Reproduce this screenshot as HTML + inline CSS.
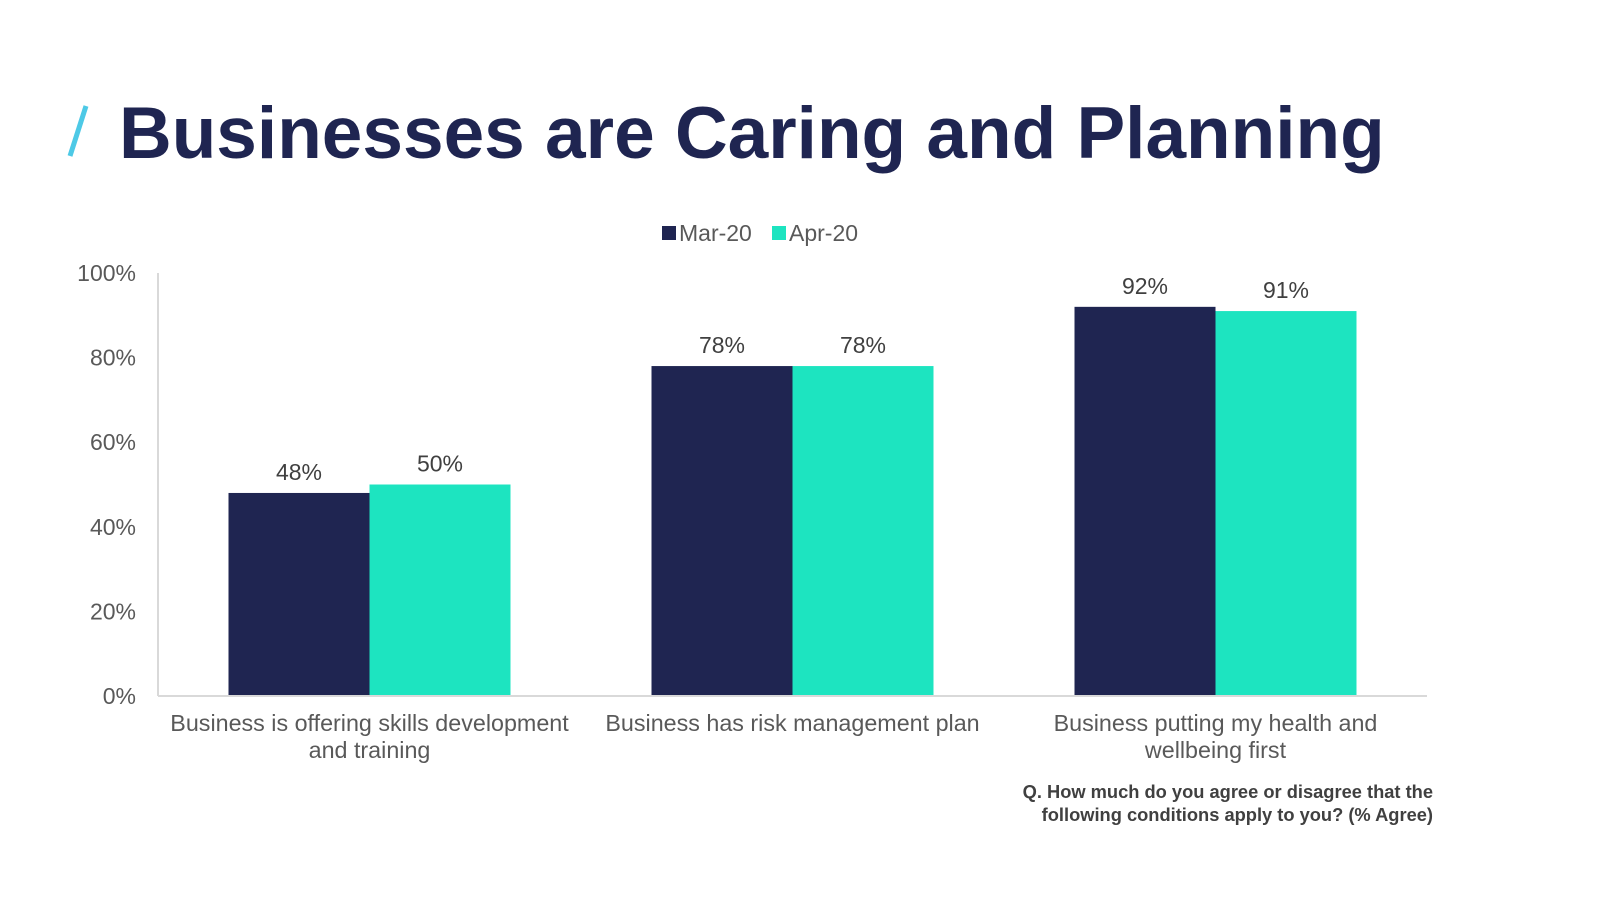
<!DOCTYPE html>
<html><head><meta charset="utf-8"><style>
body{margin:0;width:1600px;height:900px;background:#fff;overflow:hidden;font-family:"Liberation Sans",Arial,sans-serif}
</style></head><body>
<svg width="1600" height="900">
<line x1="86" y1="106" x2="70" y2="156" stroke="#4dc9e6" stroke-width="5"/>
<text x="119" y="158" font-size="73" font-weight="bold" fill="#1f2551">Businesses are Caring and Planning</text>
<g id="legend">
<rect x="662" y="226" width="14" height="14" fill="#1f2551"/>
<text x="679" y="241" font-size="23" fill="#595959">Mar-20</text>
<rect x="772" y="226" width="14" height="14" fill="#1de4c0"/>
<text x="789" y="241" font-size="23" fill="#595959">Apr-20</text>
</g>
<g id="plot"></g>
<text font-size="18.3" font-weight="bold" fill="#404040" text-anchor="end"><tspan x="1433" y="798">Q. How much do you agree or disagree that the</tspan><tspan x="1433" y="821">following conditions apply to you? (% Agree)</tspan></text>
</svg>
<script>
const categories=[["Business is offering skills development","and training"],["Business has risk management plan"],["Business putting my health and","wellbeing first"]];
const marValues=[48,78,92];
const aprValues=[50,78,91];
const tickValues=[0,20,40,60,80,100];
const NS="http://www.w3.org/2000/svg";
const g=document.getElementById('plot');
const x0=158,x1=1427,y0=696,yTop=273;
const y=v=>y0-(y0-yTop)*v/100;
const band=(x1-x0)/categories.length;
const xc=i=>x0+band*(i+0.5);
const bw=band/3;
function el(t,a){const e=document.createElementNS(NS,t);for(const k in a)e.setAttribute(k,a[k]);g.appendChild(e);return e;}
tickValues.forEach(v=>{const t=el('text',{x:136,y:y(v)+8,'font-size':23,fill:'#595959','text-anchor':'end'});t.textContent=v+'%';

});
const ax=el('line',{x1:x0,y1:yTop,x2:x0,y2:y0,stroke:'#d9d9d9','stroke-width':2});


[[marValues,'#1f2551',-1],[aprValues,'#1de4c0',0]].forEach(([vals,col,off],s)=>{
vals.forEach((v,i)=>{const bx=xc(i)+off*bw;
const r=el('rect',{x:bx,y:y(v),width:bw,height:y0-y(v),fill:col});


const t=el('text',{x:bx+bw/2,y:y(v)-13,'font-size':23,fill:'#404040','text-anchor':'middle'});t.textContent=v+'%';

});});
const bl=el('line',{x1:x0,y1:y0,x2:x1,y2:y0,stroke:'#d9d9d9','stroke-width':2});


categories.forEach((c,i)=>{c.forEach((ln,j)=>{const t=el('text',{x:xc(i),y:731+j*27,'font-size':23.3,fill:'#595959','text-anchor':'middle'});t.textContent=ln;

});});
</script>
</body></html>
